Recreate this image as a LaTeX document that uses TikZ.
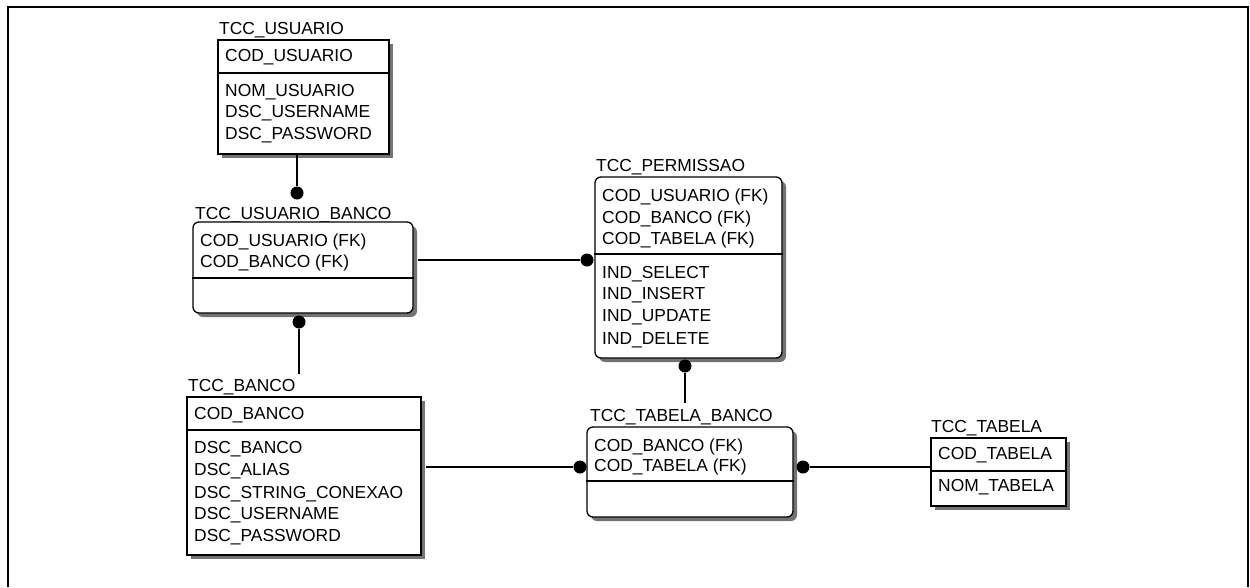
\documentclass[tikz,border=0pt]{standalone}
\usepackage{fontspec}
\setmainfont{Liberation Sans}
\usetikzlibrary{shadows}
\begin{document}
\begin{tikzpicture}[x=1pt,y=-1pt,
  lbl/.style={font=\fontsize{17.4}{21}\selectfont, inner sep=0pt, text height=12.5pt, text depth=0pt, anchor=west},
  ent/.style={draw, line width=1.3pt, fill=white, inner sep=0pt,
    drop shadow={shadow xshift=4pt, shadow yshift=-4pt, fill=black!55, opacity=1}},
  rent/.style={ent, rounded corners=6pt},
  dotnode/.style={circle, fill=black, inner sep=0pt, minimum size=13pt},
  conn/.style={line width=1.2pt},
  divline/.style={line width=1.3pt},
  frame/.style={line width=2pt}]
\useasboundingbox (0,0) rectangle (1250,587);
\draw[frame] (8,587) -- (8,7) -- (1248,7) -- (1248,587);

% ---------- TCC_USUARIO
\node[lbl] (tUsu) at (219,28) {TCC\_USUARIO};
\node[ent, minimum width=171pt, minimum height=114pt] (usuario) at (303.5,97) {};
\draw[divline] (usuario.west |- 0,73) -- (usuario.east |- 0,73);
\node[lbl] (u1) at (225,55) {COD\_USUARIO};
\node[lbl] (u2) at (225,90) {NOM\_USUARIO};
\node[lbl] (u3) at (225,111) {DSC\_USERNAME};
\node[lbl] (u4) at (225,133) {DSC\_PASSWORD};

% ---------- TCC_USUARIO_BANCO
\node[lbl] (tUB) at (195,213) {TCC\_USUARIO\_BANCO};
\node[rent, minimum width=220pt, minimum height=91pt] (ub) at (303,267.5) {};
\draw[divline] (ub.west |- 0,278) -- (ub.east |- 0,278);
\node[lbl] (ub1) at (200,240) {COD\_USUARIO (FK)};
\node[lbl] (ub2) at (200,261) {COD\_BANCO (FK)};

% ---------- TCC_BANCO
\node[lbl] (tBanco) at (188,385) {TCC\_BANCO};
\node[ent, minimum width=234pt, minimum height=158pt] (banco) at (304,476) {};
\draw[divline] (banco.west |- 0,430) -- (banco.east |- 0,430);
\node[lbl] (b1) at (194,413) {COD\_BANCO};
\node[lbl] (b2) at (194,447) {DSC\_BANCO};
\node[lbl] (b3) at (194,469) {DSC\_ALIAS};
\node[lbl] (b4) at (194,492) {DSC\_STRING\_CONEXAO};
\node[lbl] (b5) at (194,513) {DSC\_USERNAME};
\node[lbl] (b6) at (194,535) {DSC\_PASSWORD};

% ---------- TCC_PERMISSAO
\node[lbl] (tPerm) at (596,165) {TCC\_PERMISSAO};
\node[rent, minimum width=187pt, minimum height=181pt] (perm) at (688.5,267.5) {};
\draw[divline] (perm.west |- 0,254) -- (perm.east |- 0,254);
\node[lbl] (p1) at (602,195) {COD\_USUARIO (FK)};
\node[lbl] (p2) at (602,217) {COD\_BANCO (FK)};
\node[lbl] (p3) at (602,238) {COD\_TABELA (FK)};
\node[lbl] (p4) at (602,272) {IND\_SELECT};
\node[lbl] (p5) at (602,293) {IND\_INSERT};
\node[lbl] (p6) at (602,315) {IND\_UPDATE};
\node[lbl] (p7) at (602,338) {IND\_DELETE};

% ---------- TCC_TABELA_BANCO
\node[lbl] (tTB) at (590,415) {TCC\_TABELA\_BANCO};
\node[rent, minimum width=206pt, minimum height=90pt] (tb) at (690,472) {};
\draw[divline] (tb.west |- 0,481) -- (tb.east |- 0,481);
\node[lbl] (tb1) at (594,445) {COD\_BANCO (FK)};
\node[lbl] (tb2) at (594,465) {COD\_TABELA (FK)};

% ---------- TCC_TABELA
\node[lbl] (tTab) at (931,426) {TCC\_TABELA};
\node[ent, minimum width=135pt, minimum height=68pt] (tabela) at (998.5,472) {};
\draw[divline] (tabela.west |- 0,471) -- (tabela.east |- 0,471);
\node[lbl] (t1) at (938,453) {COD\_TABELA};
\node[lbl] (t2) at (938,485) {NOM\_TABELA};

% ---------- connectors
\node[dotnode] (d1) at (297,193) {};
\draw[conn] (usuario.south -| d1) -- (d1);

\node[dotnode] (d2) at (299,322) {};
\coordinate (c2) at (299,374);
\draw[conn] (d2) -- (c2);

\node[dotnode] (d3) at (587,260) {};
\draw[conn] ([xshift=4pt]ub.east |- d3) -- (d3);

\node[dotnode] (d4) at (685,366) {};
\coordinate (c4) at (685,403);
\draw[conn] (d4) -- (c4);

\node[dotnode] (d5) at (580,467) {};
\draw[conn] ([xshift=4pt]banco.east |- d5) -- (d5);

\node[dotnode] (d6) at (803,467) {};
\draw[conn] (d6) -- (tabela.west |- d6);
\end{tikzpicture}
\end{document}
